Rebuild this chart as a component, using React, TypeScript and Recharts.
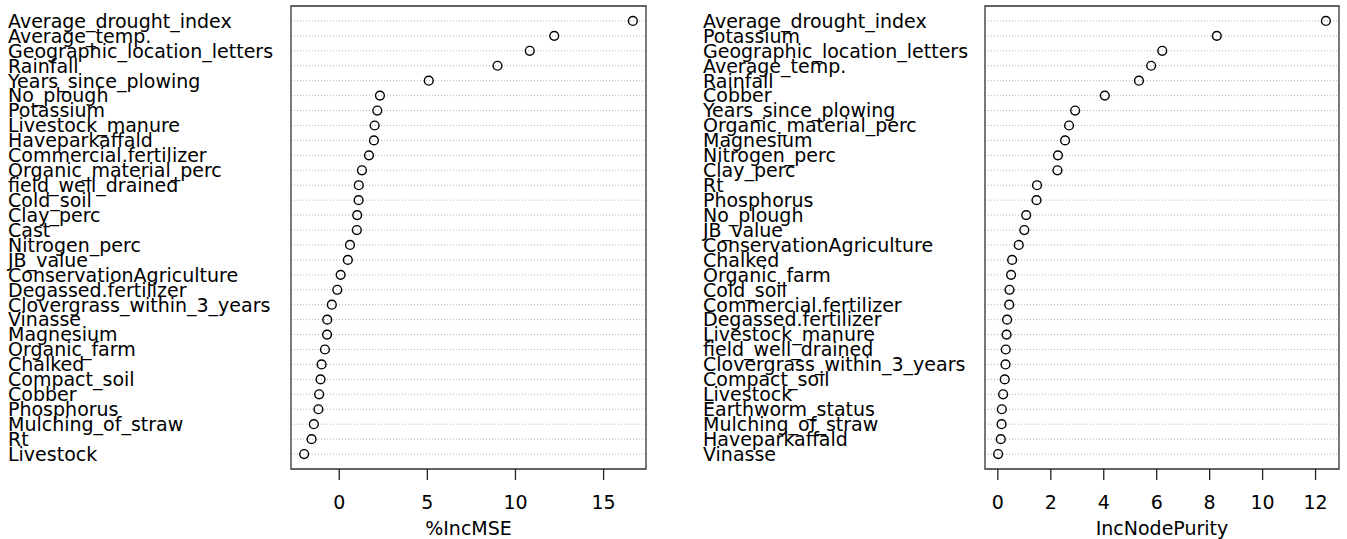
import React from "react";
import {
  ScatterChart,
  Scatter,
  XAxis,
  YAxis,
  CartesianGrid,
  ReferenceArea,
} from "recharts";

// %IncMSE panel (sorted, top to bottom)
const mseNames = [
  "Average_drought_index",
  "Average_temp.",
  "Geographic_location_letters",
  "Rainfall",
  "Years_since_plowing",
  "No_plough",
  "Potassium",
  "Livestock_manure",
  "Haveparkaffald",
  "Commercial.fertilizer",
  "Organic_material_perc",
  "field_well_drained",
  "Cold_soil",
  "Clay_perc",
  "Cast",
  "Nitrogen_perc",
  "JB_value",
  "ConservationAgriculture",
  "Degassed.fertilizer",
  "Clovergrass_within_3_years",
  "Vinasse",
  "Magnesium",
  "Organic_farm",
  "Chalked",
  "Compact_soil",
  "Cobber",
  "Phosphorus",
  "Mulching_of_straw",
  "Rt",
  "Livestock",
];
const mseValues = [
  16.66, 12.2, 10.81, 8.98, 5.08, 2.31, 2.16, 2.01, 1.97, 1.69, 1.29, 1.11,
  1.1, 1.02, 1.0, 0.61, 0.49, 0.08, -0.11, -0.42, -0.68, -0.69, -0.81, -1.0,
  -1.06, -1.14, -1.18, -1.44, -1.57, -1.99,
];
const mseTicks = [0, 5, 10, 15];

// IncNodePurity panel
const purityNames = [
  "Average_drought_index",
  "Potassium",
  "Geographic_location_letters",
  "Average_temp.",
  "Rainfall",
  "Cobber",
  "Years_since_plowing",
  "Organic_material_perc",
  "Magnesium",
  "Nitrogen_perc",
  "Clay_perc",
  "Rt",
  "Phosphorus",
  "No_plough",
  "JB_value",
  "ConservationAgriculture",
  "Chalked",
  "Organic_farm",
  "Cold_soil",
  "Commercial.fertilizer",
  "Degassed.fertilizer",
  "Livestock_manure",
  "field_well_drained",
  "Clovergrass_within_3_years",
  "Compact_soil",
  "Livestock",
  "Earthworm_status",
  "Mulching_of_straw",
  "Haveparkaffald",
  "Vinasse",
];
const purityValues = [
  12.39, 8.27, 6.21, 5.79, 5.33, 4.04, 2.92, 2.69, 2.54, 2.27, 2.25, 1.48,
  1.46, 1.07, 1.0, 0.79, 0.54, 0.5, 0.44, 0.43, 0.35, 0.33, 0.3, 0.29, 0.26,
  0.2, 0.15, 0.14, 0.11, 0.01,
];
const purityTicks = [0, 2, 4, 6, 8, 10, 12];

const FONT = "'DejaVu Sans', sans-serif";

// R style range: data range plus 4% each side
function padded(vals: number[]): [number, number] {
  const lo = Math.min(...vals);
  const hi = Math.max(...vals);
  const p = (hi - lo) * 0.04;
  return [lo - p, hi + p];
}

function Panel({
  names,
  values,
  ticks,
  title,
  width,
  yAxisWidth,
  labelX,
  rightMargin,
}: {
  names: string[];
  values: number[];
  ticks: number[];
  title: string;
  width: number;
  yAxisWidth: number;
  labelX: number;
  rightMargin: number;
}) {
  const data = values.map((v, i) => ({ x: v, y: i + 1 }));
  const xDom = padded(values);
  const n = names.length;

  const yTick = (props: any) => (
    <text
      x={labelX}
      y={props.y}
      dy="0.36em"
      textAnchor="start"
      fontFamily={FONT}
      fontSize={19}
      fill="#000"
    >
      {names[props.payload.value - 1]}
    </text>
  );

  const xTick = (props: any) => (
    <text
      x={props.x}
      y={props.y + 29}
      textAnchor="middle"
      fontFamily={FONT}
      fontSize={19}
      fill="#000"
    >
      {props.payload.value}
    </text>
  );

  return (
    <ScatterChart
      width={width}
      height={539}
      margin={{ top: 6, right: rightMargin, bottom: 0, left: 0 }}
    >
      <CartesianGrid
        vertical={false}
        stroke="#b4b4b4"
        strokeDasharray="1 2"
      />
      <XAxis
        type="number"
        dataKey="x"
        domain={xDom}
        ticks={ticks}
        allowDataOverflow
        interval={0}
        axisLine={false}
        tickLine={{ stroke: "#222", strokeWidth: 1.3 }}
        tickSize={11}
        tickMargin={0}
        height={70}
        tick={xTick}
        label={{
          content: (p: any) => {
            const vb = p.viewBox;
            return (
              <text
                x={vb.x + vb.width / 2}
                y={vb.y + vb.height - 4}
                textAnchor="middle"
                fontFamily={FONT}
                fontSize={19}
                fill="#000"
              >
                {title}
              </text>
            );
          },
        }}
      />
      <YAxis
        type="number"
        dataKey="y"
        domain={[0, n + 1]}
        reversed
        ticks={names.map((_, i) => i + 1)}
        interval={0}
        width={yAxisWidth}
        axisLine={false}
        tickLine={false}
        tick={yTick}
      />
      <ReferenceArea
        x1={xDom[0]}
        x2={xDom[1]}
        y1={0}
        y2={n + 1}
        fill="none"
        stroke="#333"
        strokeWidth={1.3}
        ifOverflow="visible"
      />
      <Scatter
        data={data}
        isAnimationActive={false}
        shape={(p: any) => (
          <circle
            cx={p.cx}
            cy={p.cy}
            r={4.4}
            fill="none"
            stroke="#000"
            strokeWidth={1.4}
          />
        )}
      />
    </ScatterChart>
  );
}

export default function App() {
  return (
    <div
      style={{
        position: "absolute",
        left: 0,
        top: 0,
        width: 1347,
        height: 539,
        background: "#fff",
        display: "flex",
      }}
    >
      <Panel
        names={mseNames}
        values={mseValues}
        ticks={mseTicks}
        title="%IncMSE"
        width={680}
        yAxisWidth={291}
        labelX={8}
        rightMargin={34}
      />
      <Panel
        names={purityNames}
        values={purityValues}
        ticks={purityTicks}
        title="IncNodePurity"
        width={667}
        yAxisWidth={305}
        labelX={23}
        rightMargin={8}
      />
    </div>
  );
}
